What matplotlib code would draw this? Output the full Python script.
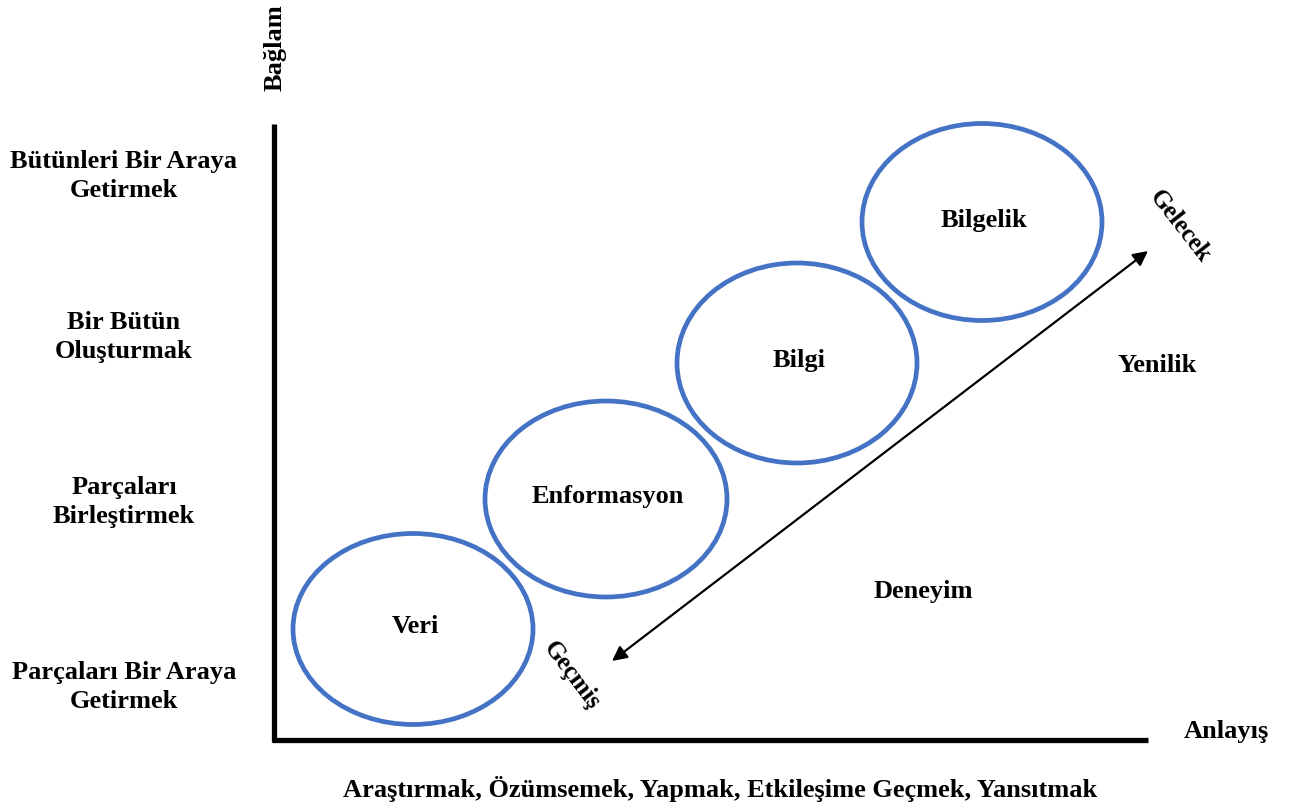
import matplotlib.pyplot as plt
from matplotlib.patches import Ellipse

plt.rcParams['font.family'] = ['Liberation Serif', 'DejaVu Serif']

# stages of the hierarchy (pixel coords of the drawing)
stages = ['Veri', 'Enformasyon', 'Bilgi', 'Bilgelik']
stage_x = [413, 606, 797, 982]
stage_y = [630, 500, 364, 223]
stage_w = [240, 242, 240, 240]
stage_h = [191, 196, 200, 197]

# left side labels and their heights
levels = ['Bütünleri Bir Araya\nGetirmek', 'Bir Bütün\nOluşturmak',
          'Parçaları\nBirleştirmek', 'Parçaları Bir Araya\nGetirmek']
level_y = [176, 337, 502, 687]

blue = '#4472C4'
fs = 19

fig = plt.figure(figsize=(12.94, 8.12), dpi=100)
ax = fig.add_axes([0, 0, 1, 1])
ax.set_xlim(0, 1294)
ax.set_ylim(812, 0)
ax.axis('off')

# axes lines
ax.plot([274, 274], [125, 743], color='black', lw=3.8, solid_capstyle='butt')
ax.plot([272, 1148], [741, 741], color='black', lw=3.8, solid_capstyle='butt')

for name, cx, cy, w, h in zip(stages, stage_x, stage_y, stage_w, stage_h):
    ax.add_patch(Ellipse((cx, cy), w, h, fill=False, edgecolor=blue, lw=3.4))
    ax.text(cx + 2, cy - 3, name, ha='center', va='center', fontsize=fs, fontweight='bold')

for lab, y in zip(levels, level_y):
    ax.text(124, y, lab, ha='center', va='center', fontsize=fs, fontweight='bold',
            linespacing=1.32)

# double headed time arrow
ax.annotate('', xy=(1148, 252), xytext=(612, 662),
            arrowprops=dict(arrowstyle='<|-|>', color='black', lw=1.6,
                            mutation_scale=22, shrinkA=0, shrinkB=0))

ax.text(275, 48, 'Bağlam', rotation=90, ha='center', va='center', fontsize=fs, fontweight='bold')
ax.text(1180, 226, 'Gelecek', rotation=-52, ha='center', va='center', fontsize=18, fontweight='bold')
ax.text(572, 676, 'Geçmiş', rotation=-53, ha='center', va='center', fontsize=18, fontweight='bold')
ax.text(1157, 366, 'Yenilik', ha='center', va='center', fontsize=fs, fontweight='bold')
ax.text(923, 592, 'Deneyim', ha='center', va='center', fontsize=fs, fontweight='bold')
ax.text(1226, 732, 'Anlayış', ha='center', va='center', fontsize=fs, fontweight='bold')
ax.text(720, 789, 'Araştırmak, Özümsemek, Yapmak, Etkileşime Geçmek, Yansıtmak',
        ha='center', va='center', fontsize=fs, fontweight='bold')

fig.savefig('out.png', dpi=100)
